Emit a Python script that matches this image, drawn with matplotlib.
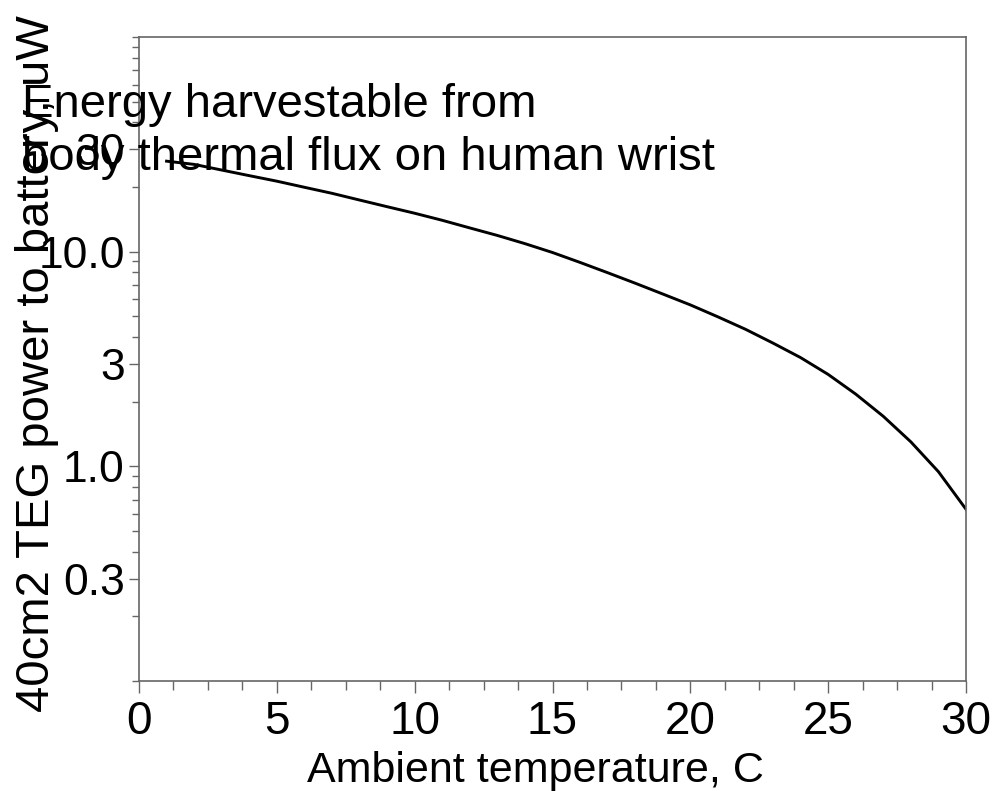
import numpy as np
import matplotlib
matplotlib.use("Agg")
import matplotlib.pyplot as plt
from matplotlib.ticker import FixedLocator, LogLocator, MultipleLocator, NullFormatter

# -----------------------------------------------------------------------------
# Data
# -----------------------------------------------------------------------------
ambient_c = [1, 2, 3, 4, 5, 6, 7, 8, 9, 10, 11, 12, 13, 14, 15,
             16, 17, 18, 19, 20, 21, 22, 23, 24, 25, 26, 27, 28, 29, 30]
power_uw = [26.4, 25.5, 24.0, 22.6, 21.3, 19.95, 18.7, 17.4, 16.2, 15.1,
            14.0, 12.9, 11.9, 10.9, 9.91, 8.91, 7.98, 7.13, 6.35, 5.65,
            4.97, 4.35, 3.75, 3.21, 2.68, 2.17, 1.71, 1.30, 0.944, 0.631]

y_ticks = [0.3, 1.0, 3, 10.0, 30]
y_tick_labels = ["0.3", "1.0", "3", "10.0", "30"]
x_ticks = [0, 5, 10, 15, 20, 25, 30]

title_lines = ["Energy harvestable from", "body thermal flux on human wrist"]
x_label = "Ambient temperature, C"
y_label = "40cm2 TEG power to battery, uW"

# -----------------------------------------------------------------------------
# Figure
# -----------------------------------------------------------------------------
plt.rcParams["font.family"] = ["Liberation Sans", "DejaVu Sans"]
FS = 33
AXIS_GREY = "#666666"

fig = plt.figure(figsize=(9.93, 7.91), dpi=100)
ax = fig.add_axes([139 / 993, 1 - 681 / 791, 827 / 993, 644 / 791])

ax.plot(ambient_c, power_uw, color="black", linewidth=2.1)

ax.set_yscale("log")
ax.set_xlim(0, 30)
ax.set_ylim(0.1, 100)

ax.xaxis.set_major_locator(FixedLocator(x_ticks))
ax.xaxis.set_minor_locator(MultipleLocator(1.25))
ax.yaxis.set_major_locator(FixedLocator(y_ticks))
ax.yaxis.set_minor_locator(LogLocator(base=10, subs=np.arange(1, 10)))
ax.yaxis.set_minor_formatter(NullFormatter())
ax.set_yticklabels(y_tick_labels)

for side in ["top", "right", "bottom", "left"]:
    ax.spines[side].set_color(AXIS_GREY)
    ax.spines[side].set_linewidth(1.2)

ax.tick_params(axis="x", which="major", length=8.6, width=1.0, color=AXIS_GREY,
               labelsize=FS, pad=5)
ax.tick_params(axis="x", which="minor", length=6.5, width=1.0, color=AXIS_GREY)
ax.tick_params(axis="y", which="major", length=7.2, width=1.0, color=AXIS_GREY,
               labelsize=32, pad=3)
ax.tick_params(axis="y", which="minor", length=5, width=1.0, color=AXIS_GREY)

# axis labels placed on the figure, as in the reference
fig.text(535 / 993, 1 - 782 / 791, x_label, fontsize=31,
         ha="center", va="baseline")
fig.text(37 / 993, 1 - 364 / 791, y_label, fontsize=34, rotation=90,
         ha="center", va="center")

# title, drawn over the plot area
fig.text(22 / 993, 1 - 117 / 791, title_lines[0], fontsize=34,
         ha="left", va="baseline")
fig.text(22 / 993, 1 - 170 / 791, title_lines[1], fontsize=34,
         ha="left", va="baseline")

fig.savefig("out.png", dpi=100)
